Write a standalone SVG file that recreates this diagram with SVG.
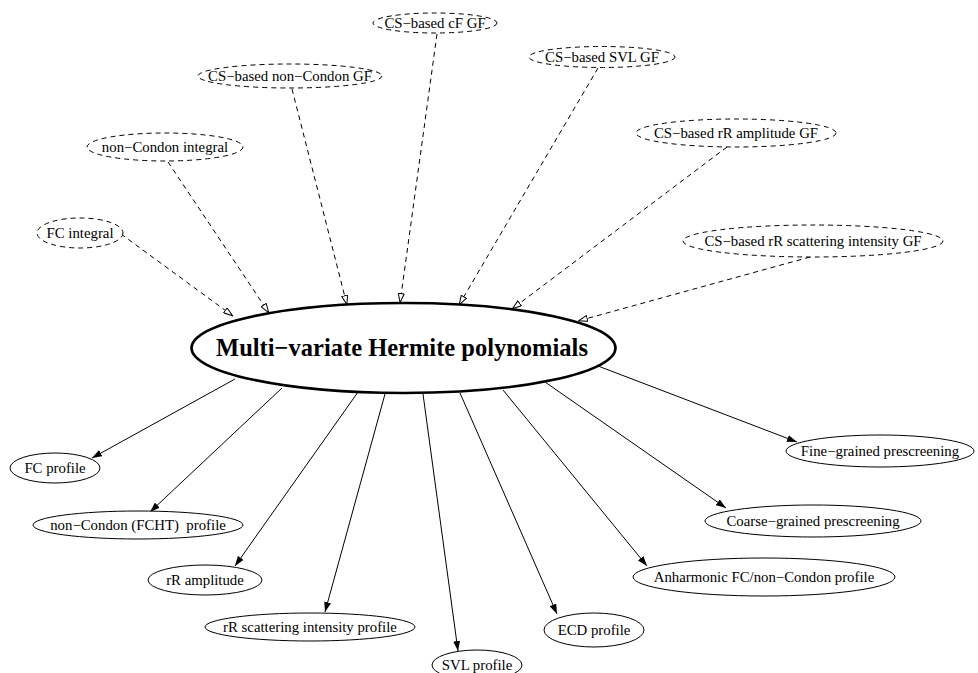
<svg xmlns="http://www.w3.org/2000/svg" width="978" height="673" viewBox="0 0 978 673">
<defs>
<style>
.n ellipse{fill:white;stroke:black;stroke-width:1}
.d ellipse{stroke-dasharray:5,4}
.main ellipse{stroke-width:2.6}
text{font-family:"Liberation Serif","Times New Roman",serif;font-size:14.8px;fill:black;text-anchor:middle;white-space:pre}
.main text{font-size:24.5px;font-weight:bold}
.e line{stroke:black;stroke-width:1;fill:none}
.e .dl{stroke-dasharray:5,4;marker-end:url(#open)}
.e .sl{marker-end:url(#filled)}
</style>
<marker id="open" viewBox="0 0 10 7" refX="10" refY="3.5" markerWidth="10" markerHeight="7" orient="auto" markerUnits="userSpaceOnUse"><path d="M0.5,0.5 L9.5,3.5 L0.5,6.5 z" fill="white" stroke="black" stroke-width="1"/></marker>
<marker id="filled" viewBox="0 0 10 7" refX="10" refY="3.5" markerWidth="10" markerHeight="7" orient="auto" markerUnits="userSpaceOnUse"><path d="M0,0 L10,3.5 L0,7 z" fill="black"/></marker>
</defs>
<rect width="978" height="673" fill="white"/>
<g id="edges" class="e">
<line class="dl" x1="121" y1="234" x2="233" y2="316"/>
<line class="dl" x1="168" y1="162" x2="269" y2="313"/>
<line class="dl" x1="292" y1="89" x2="347" y2="305"/>
<line class="dl" x1="437" y1="34" x2="400" y2="303"/>
<line class="dl" x1="598" y1="68" x2="459" y2="305"/>
<line class="dl" x1="727" y1="147" x2="512" y2="309"/>
<line class="dl" x1="810" y1="257" x2="578" y2="321"/>
<line class="sl" x1="235" y1="379" x2="92" y2="458"/>
<line class="sl" x1="282" y1="388" x2="150" y2="512"/>
<line class="sl" x1="358" y1="392" x2="235" y2="566"/>
<line class="sl" x1="385" y1="394" x2="325" y2="612"/>
<line class="sl" x1="423" y1="394" x2="458" y2="651"/>
<line class="sl" x1="460" y1="393" x2="557" y2="614"/>
<line class="sl" x1="503" y1="390" x2="647" y2="566"/>
<line class="sl" x1="545" y1="382" x2="726" y2="508"/>
<line class="sl" x1="598" y1="366" x2="797" y2="442"/>
</g>
<g id="main" class="n main"><ellipse cx="403.5" cy="348" rx="212" ry="45"/><text x="402" y="356">Multi−variate Hermite polynomials</text></g>
<g id="cs_cf" class="n d"><ellipse cx="435" cy="23" rx="62" ry="10"/><text x="435" y="28">CS−based cF GF</text></g>
<g id="cs_nc" class="n d"><ellipse cx="290" cy="76" rx="92" ry="12"/><text x="290" y="81">CS−based non−Condon GF</text></g>
<g id="cs_svl" class="n d"><ellipse cx="602" cy="57" rx="73" ry="10.5"/><text x="602" y="62">CS−based SVL GF</text></g>
<g id="cs_rra" class="n d"><ellipse cx="736" cy="133" rx="100" ry="14"/><text x="736" y="138">CS−based rR amplitude GF</text></g>
<g id="nc_int" class="n d"><ellipse cx="165" cy="147" rx="78" ry="14"/><text x="165" y="152">non−Condon integral</text></g>
<g id="fc_int" class="n d"><ellipse cx="80" cy="233" rx="43" ry="15"/><text x="80" y="238">FC integral</text></g>
<g id="cs_rrs" class="n d"><ellipse cx="813" cy="241" rx="130" ry="16"/><text x="813" y="246">CS−based rR scattering intensity GF</text></g>
<g id="fc_prof" class="n"><ellipse cx="55" cy="468" rx="45" ry="15"/><text x="55" y="473">FC profile</text></g>
<g id="nc_prof" class="n"><ellipse cx="138" cy="525" rx="105" ry="14"/><text x="138" y="530">non−Condon (FCHT)  profile</text></g>
<g id="rra" class="n"><ellipse cx="205" cy="580" rx="57" ry="15"/><text x="205" y="585">rR amplitude</text></g>
<g id="rrs" class="n"><ellipse cx="310" cy="627" rx="105" ry="14"/><text x="310" y="632">rR scattering intensity profile</text></g>
<g id="svl" class="n"><ellipse cx="477" cy="665" rx="45" ry="15"/><text x="477" y="670">SVL profile</text></g>
<g id="ecd" class="n"><ellipse cx="594" cy="630" rx="50" ry="17"/><text x="594" y="635">ECD profile</text></g>
<g id="anh" class="n"><ellipse cx="764" cy="577" rx="131" ry="19"/><text x="764" y="582">Anharmonic FC/non−Condon profile</text></g>
<g id="coarse" class="n"><ellipse cx="813" cy="521" rx="108" ry="16"/><text x="813" y="526">Coarse−grained prescreening</text></g>
<g id="fine" class="n"><ellipse cx="880" cy="451" rx="94" ry="16"/><text x="880" y="456">Fine−grained prescreening</text></g>
</svg>
